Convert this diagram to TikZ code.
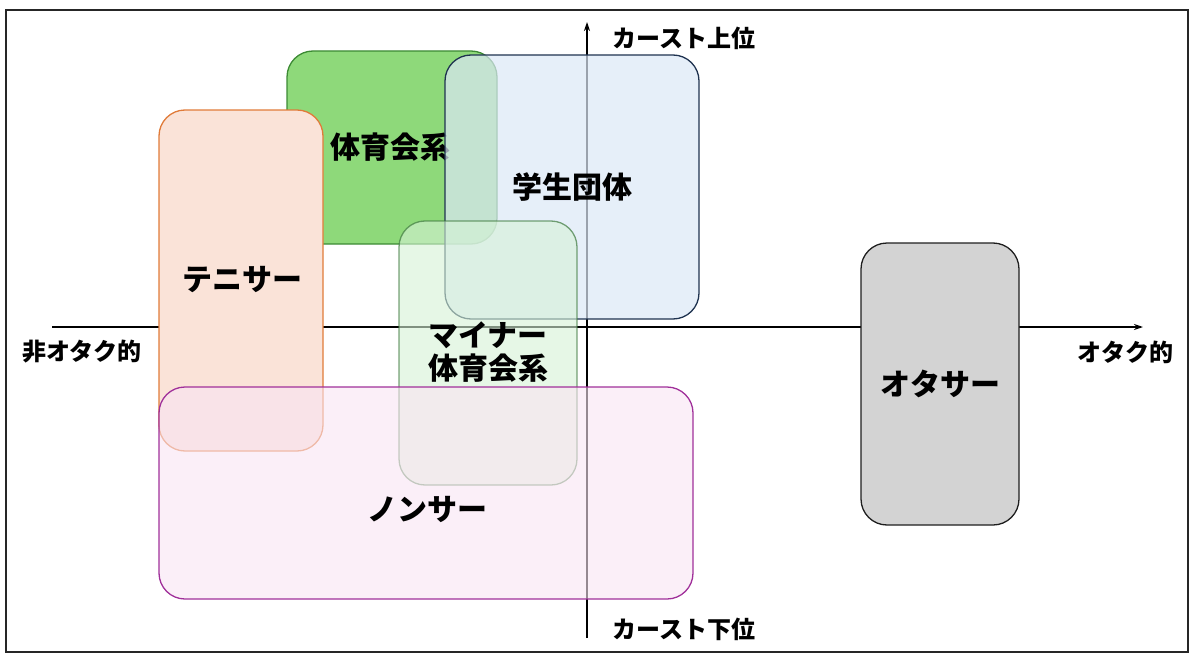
\documentclass[tikz,border=0pt]{standalone}
\usepackage{fontspec}
\setmainfont{Noto Sans CJK JP}
\usetikzlibrary{arrows.meta}
\definecolor{gfill}{HTML}{8ED97A}
\definecolor{gline}{HTML}{3C8A34}
\definecolor{ofill}{HTML}{FAE3D8}
\definecolor{oline}{HTML}{E07B39}
\definecolor{bfill}{HTML}{DCE8F7}
\definecolor{bline}{HTML}{1F3350}
\definecolor{mfill}{HTML}{D6F2D6}
\definecolor{mline}{HTML}{3F7A3F}
\definecolor{pfill}{HTML}{F9E4F3}
\definecolor{pline}{HTML}{A0309A}
\definecolor{tfill}{HTML}{D3D3D3}
\definecolor{tline}{HTML}{1E1E1E}
\tikzset{
  grp/.style={rounded corners=26pt, line width=1.3pt, inner sep=0pt, outer sep=0pt},
  big/.style={font=\bfseries\fontsize{30}{37}\selectfont, align=center},
  small/.style={font=\bfseries\fontsize{24}{28}\selectfont},
  axis/.style={line width=1.6pt, -{Stealth[length=9pt,width=6pt]}}
}
\begin{document}
\begin{tikzpicture}[x=1pt,y=-1pt]
\useasboundingbox (0,0) rectangle (1200,661);
\draw[line width=1.2pt, draw=black!85] (6,10) rectangle (1188,652);
% axes
\coordinate (xl) at (52,327);
\coordinate (xr) at (1143,327);
\coordinate (yb) at (587,638);
\coordinate (yt) at (587,22);
\draw[axis] (xl) -- (xr);
\draw[axis] (yb) -- (yt);
% boxes
\draw[grp, fill=gfill, draw=gline] (287,51) rectangle (497,244);
\node[big] (taiiku) at (390,147) {体育会系};
\draw[grp, fill=ofill, draw=oline] (159,110) rectangle (323,451);
\node[big] (tenisa) at (242,280) {テニサー};
\draw[grp, fill=bfill, fill opacity=0.7, draw=bline] (445,55) rectangle (699,319);
\node[big] (gakusei) at (572,187) {学生団体};
\draw[grp, fill=mfill, fill opacity=0.6, draw=mline, draw opacity=0.7] (399,221) rectangle (577,485);
\node[big] (minor) at (488,352) {マイナー\\[-4pt]体育会系};
\draw[grp, fill=pfill, fill opacity=0.6, draw=pline] (159,387) rectangle (693,599);
\node[big] (nonsa) at (427,510) {ノンサー};
\draw[grp, fill=tfill, draw=tline] (861,243) rectangle (1019,525);
\node[big] (otasa) at (940,384) {オタサー};
% axis labels
\node[small] (lxl) at (82,352) {非オタク的};
\node[small] (lxr) at (1125,352) {オタク的};
\node[small] (lyt) at (684,38) {カースト上位};
\node[small] (lyb) at (684,629) {カースト下位};
\end{tikzpicture}
\end{document}
